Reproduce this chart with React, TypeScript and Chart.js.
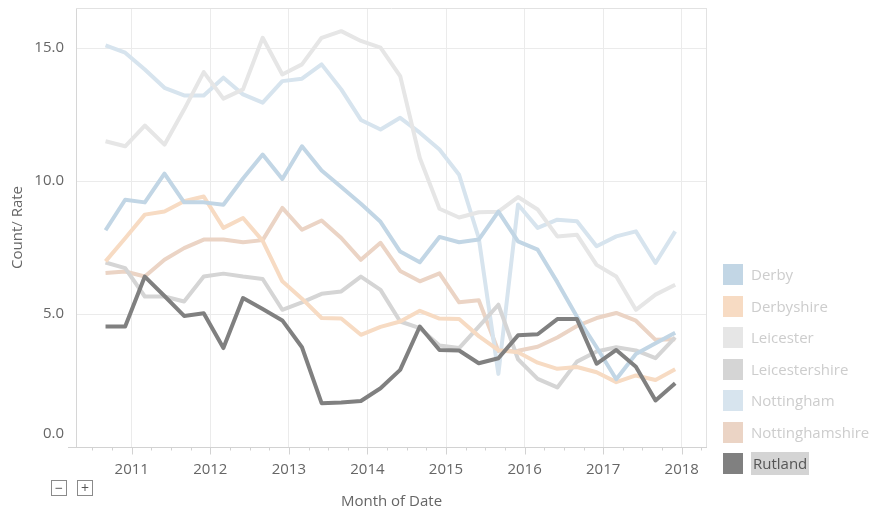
import React, { useEffect, useRef } from 'react';
import { Chart, registerables } from 'chart.js';

Chart.register(...registerables);

// Quarterly observations ("Month of Date")
const dates = [
  '2010-09', '2010-12', '2011-03', '2011-06', '2011-09', '2011-12',
  '2012-03', '2012-06', '2012-09', '2012-12', '2013-03', '2013-06',
  '2013-09', '2013-12', '2014-03', '2014-06', '2014-09', '2014-12',
  '2015-03', '2015-06', '2015-09', '2015-12', '2016-03', '2016-06',
  '2016-09', '2016-12', '2017-03', '2017-06', '2017-09', '2017-12',
];

const derby = [8.15, 9.3, 9.2, 10.28, 9.2, 9.2, 9.11, 10.1, 11.0, 10.08, 11.31, 10.4, 9.78, 9.15, 8.47, 7.35, 6.95, 7.9, 7.7, 7.8, 8.85, 7.73, 7.42, 6.2, 4.9, 3.75, 2.55, 3.5, 3.9, 4.3];
const derbyshire = [6.98, 7.85, 8.74, 8.86, 9.24, 9.42, 8.24, 8.61, 7.75, 6.23, 5.58, 4.85, 4.83, 4.22, 4.52, 4.72, 5.12, 4.83, 4.81, 4.17, 3.64, 3.56, 3.17, 2.94, 3.01, 2.81, 2.44, 2.69, 2.52, 2.92];
const leicester = [11.5, 11.31, 12.09, 11.37, 12.69, 14.1, 13.1, 13.45, 15.39, 14.01, 14.39, 15.39, 15.64, 15.27, 15.02, 13.95, 10.87, 8.96, 8.63, 8.83, 8.85, 9.4, 8.93, 7.92, 7.98, 6.85, 6.41, 5.16, 5.73, 6.1];
const leicestershire = [6.94, 6.73, 5.66, 5.66, 5.47, 6.41, 6.52, 6.41, 6.32, 5.16, 5.44, 5.76, 5.85, 6.41, 5.91, 4.72, 4.47, 3.82, 3.72, 4.53, 5.35, 3.3, 2.56, 2.24, 3.21, 3.59, 3.75, 3.63, 3.34, 4.12];
const nottingham = [15.1, 14.83, 14.2, 13.51, 13.22, 13.22, 13.89, 13.26, 12.95, 13.76, 13.85, 14.39, 13.45, 12.3, 11.94, 12.38, 11.82, 11.19, 10.24, 7.86, 2.75, 9.12, 8.24, 8.55, 8.49, 7.55, 7.92, 8.11, 6.92, 8.11];
const nottinghamshire = [6.54, 6.6, 6.41, 7.04, 7.48, 7.8, 7.8, 7.7, 7.78, 8.99, 8.17, 8.52, 7.86, 7.04, 7.68, 6.62, 6.23, 6.53, 5.44, 5.52, 3.6, 3.62, 3.77, 4.12, 4.55, 4.85, 5.04, 4.75, 4.03, 4.05];
const rutland = [4.53, 4.53, 6.41, 5.68, 4.93, 5.03, 3.72, 5.6, 5.19, 4.76, 3.75, 1.65, 1.67, 1.73, 2.21, 2.9, 4.53, 3.65, 3.63, 3.15, 3.34, 4.2, 4.24, 4.81, 4.81, 3.13, 3.65, 3.02, 1.75, 2.4];

const seriesNames = ['Derby', 'Derbyshire', 'Leicester', 'Leicestershire', 'Nottingham', 'Nottinghamshire', 'Rutland'];
const seriesValues = [derby, derbyshire, leicester, leicestershire, nottingham, nottinghamshire, rutland];
const seriesColors = ['#c2d6e5', '#f7dbc3', '#e6e6e6', '#d5d5d5', '#d7e4ee', '#ebd4c5', '#808080'];
const highlighted = 'Rutland';

const yTickValues = [0, 5, 10, 15];
const baseYear = 2010;

const FONT = '"Open Sans", "Noto Sans", sans-serif';

const toMonthIndex = (d: string) => {
  const [y, m] = d.split('-').map(Number);
  return (y - baseYear) * 12 + (m - 1);
};

const framePlugin = {
  id: 'frame',
  beforeDatasetsDraw(chart: any) {
    const { ctx, chartArea } = chart;
    const { left, right, top, bottom } = chartArea;
    const xs = chart.scales.x;
    ctx.save();
    ctx.lineWidth = 1;
    // top and right frame
    ctx.strokeStyle = '#e2e2e2';
    ctx.beginPath();
    ctx.moveTo(left, Math.round(top) + 0.5);
    ctx.lineTo(right, Math.round(top) + 0.5);
    ctx.moveTo(Math.round(right) - 0.5, top);
    ctx.lineTo(Math.round(right) - 0.5, bottom);
    ctx.stroke();
    // bottom axis line + tick marks
    ctx.strokeStyle = '#d2d2d2';
    ctx.beginPath();
    const by = Math.round(bottom) + 0.5;
    ctx.moveTo(left - 8, by);
    ctx.lineTo(right, by);
    xs.ticks.forEach((t: any) => {
      const px = Math.round(xs.getPixelForValue(t.value)) + 0.5;
      const len = t.value % 12 === 0 ? 7 : 3;
      ctx.moveTo(px, by);
      ctx.lineTo(px, by + len);
    });
    ctx.stroke();
    ctx.restore();
  },
};

export default function App() {
  const ref = useRef<HTMLCanvasElement>(null);

  useEffect(() => {
    const canvas = ref.current;
    if (!canvas) return;
    const xVals = dates.map(toMonthIndex);
    const quarterTicks: number[] = [];
    for (let m = 6; m <= 99; m += 3) quarterTicks.push(m);

    const datasets = seriesNames.map((name, k) => ({
      label: name,
      data: seriesValues[k].map((v, i) => ({ x: xVals[i], y: v })),
      borderColor: seriesColors[k],
      backgroundColor: seriesColors[k],
      borderWidth: 4,
      pointRadius: 0,
      pointHoverRadius: 0,
      tension: 0,
      fill: false,
      borderJoinStyle: 'round' as const,
      order: name === highlighted ? 0 : 1,
    }));

    const chart = new Chart(canvas, {
      type: 'line',
      data: { datasets },
      options: {
        animation: false,
        responsive: false,
        devicePixelRatio: 1,
        events: [],
        layout: { padding: { left: 0, top: 8, right: 172, bottom: 0 } },
        plugins: { legend: { display: false }, tooltip: { enabled: false } },
        scales: {
          x: {
            type: 'linear',
            min: 3.49,
            max: 99.86,
            afterFit: (s: any) => {
              s.height = 66;
              s.paddingLeft = 0;
              s.paddingRight = 0;
            },
            afterBuildTicks: (s: any) => { s.ticks = quarterTicks.map((v) => ({ value: v })); },
            grid: {
              drawTicks: false,
              color: (c: any) => (c.tick && c.tick.value % 12 === 0 ? '#ebebeb' : 'rgba(0,0,0,0)'),
            },
            border: { display: false },
            ticks: {
              autoSkip: false,
              maxRotation: 0,
              padding: 14,
              color: '#666',
              font: { family: FONT, size: 15 },
              callback: (v: any) => (Number(v) % 12 === 0 ? String(baseYear + Number(v) / 12) : ''),
            },
            title: {
              display: true,
              text: 'Month of Date',
              color: '#666',
              font: { family: FONT, size: 15 },
              padding: { top: 0, bottom: 2 },
            },
          },
          y: {
            min: 0,
            max: 16.51,
            afterFit: (s: any) => {
              s.width = 76;
              s.paddingTop = 0;
              s.paddingBottom = 0;
            },
            afterBuildTicks: (s: any) => { s.ticks = yTickValues.map((v) => ({ value: v })); },
            grid: { drawTicks: false, color: '#ebebeb' },
            border: { display: true, color: '#d6d6d6' },
            ticks: {
              padding: 12,
              color: '#666',
              font: { family: FONT, size: 15, lineHeight: 26 / 15 },
              callback: (v: any) => (Number(v) === 0 ? [Number(v).toFixed(1), ''] : Number(v).toFixed(1)),
            },
            title: {
              display: true,
              text: 'Count/ Rate',
              color: '#666',
              font: { family: FONT, size: 15 },
              padding: { top: 9, bottom: 0 },
            },
          },
        },
      },
      plugins: [framePlugin],
    } as any);

    return () => chart.destroy();
  }, []);

  const btn: React.CSSProperties = {
    position: 'absolute',
    top: 480,
    width: 16,
    height: 16,
    boxSizing: 'border-box',
    border: '1px solid #8a8a8a',
    color: '#555',
    fontSize: 14,
    lineHeight: '13px',
    textAlign: 'center',
    fontFamily: FONT,
    background: '#fff',
  };

  return (
    <div style={{ position: 'absolute', left: 0, top: 0, width: 879, height: 513, overflow: 'hidden', background: '#fff', fontFamily: FONT }}>
      <canvas ref={ref} width={879} height={513} style={{ display: 'block', width: 879, height: 513 }} />
      {seriesNames.map((name, k) => {
        const top = 264 + 31.5 * k;
        const isHi = name === highlighted;
        return (
          <React.Fragment key={name}>
            <div style={{ position: 'absolute', left: 723, top, width: 20, height: 21, background: seriesColors[k] }} />
            <div
              style={{
                position: 'absolute',
                left: 751,
                top: top - 1,
                height: 23,
                lineHeight: '23px',
                fontSize: 15,
                whiteSpace: 'nowrap',
                color: isHi ? '#555' : '#cdcdcd',
                background: isHi ? '#d4d4d4' : 'transparent',
                padding: isHi ? '0 2px' : 0,
              }}
            >
              {name}
            </div>
          </React.Fragment>
        );
      })}
      <div style={{ ...btn, left: 51 }}>−</div>
      <div style={{ ...btn, left: 77 }}>+</div>
    </div>
  );
}
